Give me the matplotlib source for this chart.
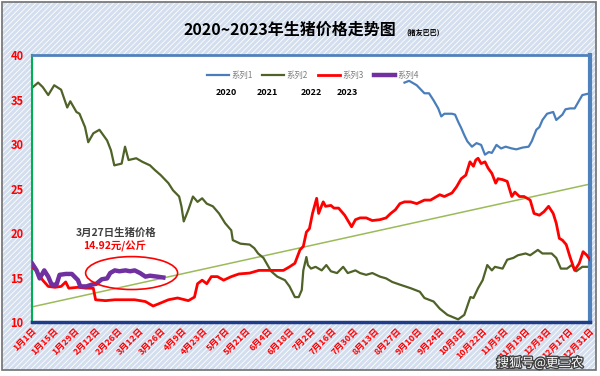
import matplotlib.pyplot as plt
from matplotlib.patches import Ellipse, Rectangle
import matplotlib.patheffects as pe

plt.rcParams['font.family'] = ['Noto Sans CJK SC', 'DejaVu Sans']
plt.rcParams['hatch.linewidth'] = 0.6

# day of year (0 = 1月1日) and price in 元/公斤
days_2020 = [243, 246, 251, 256, 259, 262, 265, 267, 269, 274, 276, 278, 280, 282, 284,
             287, 290, 293, 295.5, 298, 300, 303, 306, 309, 313, 316, 320, 324, 326, 329,
             331, 333, 336, 340, 342, 346, 348, 351, 354, 356, 359, 364]
price_2020 = [36.9, 37.1, 36.6, 35.7, 35.7, 34.9, 34.0, 33.1, 33.4, 33.4, 33.3, 32.5, 31.8, 31.0, 30.3,
              29.7, 30.1, 29.9, 28.8, 29.1, 29.0, 29.9, 29.5, 29.7, 29.5, 29.4, 29.6, 29.7, 30.3, 31.6,
              31.9, 32.7, 33.4, 33.6, 32.7, 33.3, 33.9, 34.0, 34.0, 34.6, 35.5, 35.7]

days_2021 = [0, 4, 7, 10.6, 14.5, 19, 23, 25, 29, 31, 34.6, 36.7, 40, 44, 49, 51.5, 53.7, 58.5,
             60.7, 63, 68, 72, 77, 80, 84, 89, 92, 96, 97.5, 99, 102, 105, 108, 111, 114, 118,
             122, 126, 130, 131, 136, 142, 145, 147.5, 151, 153, 156, 160, 165, 168, 171.5, 174,
             176, 177, 179, 180, 182, 185, 189, 192, 195, 199, 203, 206, 211, 214, 218, 222, 227,
             231, 235, 240, 247, 253, 256, 262, 266, 271, 278, 282, 286, 288, 291, 294, 297, 300,
             302, 307, 310, 314, 317, 322, 325, 330, 333, 339, 342, 345, 349, 352, 355, 359, 364]
price_2021 = [36.3, 36.9, 36.4, 35.5, 36.6, 36.1, 34.1, 34.8, 33.6, 33.4, 31.9, 30.2, 31.2, 31.6, 30.4, 29.3, 27.6, 27.8,
              29.7, 28.2, 28.4, 28.0, 27.6, 27.1, 26.5, 25.6, 24.8, 24.1, 23.0, 21.3, 22.6, 24.1, 23.5, 23.9, 23.3, 23.0,
              22.2, 21.1, 20.3, 19.2, 18.8, 18.7, 18.3, 17.7, 17.2, 16.6, 15.7, 15.1, 14.7, 14.0, 12.8, 12.8,
              13.6, 15.8, 17.3, 16.4, 16.0, 16.2, 15.8, 16.4, 15.7, 15.5, 16.2, 15.5, 15.8, 15.5, 15.3, 15.5, 15.1,
              14.9, 14.5, 14.2, 13.8, 13.4, 12.7, 12.3, 11.5, 10.8, 10.3, 10.8, 12.8, 12.7, 13.8, 14.7, 16.4, 15.8,
              16.2, 16.0, 17.0, 17.2, 17.5, 17.7, 17.5, 18.1, 17.7, 17.7, 17.2, 16.0, 16.0, 16.4, 15.7, 16.2, 16.2]

days_2022 = [0, 3, 7, 10.6, 15, 19, 22, 24, 30, 35, 40, 41.5, 48, 54, 61, 67, 74, 79, 82, 89,
             95, 102, 106, 108, 111, 114, 117, 121, 125, 130, 135, 142, 148, 155, 160, 164, 168,
             171.5, 174.8, 177, 179, 181, 183, 185.7, 187, 189, 190, 191.5, 195, 197, 200, 204,
             208.5, 211, 214, 218, 222, 227, 231, 234, 237, 240, 243, 247, 251, 256, 260, 266,
             269, 274, 277, 280, 283, 285.7, 288, 289.5, 291, 293, 295.5, 297.5, 300, 302.5, 304,
             307, 310, 313, 315, 318, 321, 325, 327.5, 331, 334, 337, 340, 342, 344, 346, 348.5,
             351, 354, 357, 359.5, 362, 364]
price_2022 = [16.2, 15.7, 14.7, 14.0, 13.9, 14.0, 14.5, 13.8, 13.9, 13.8, 13.8, 12.5, 12.4, 12.5, 12.5, 12.5, 12.3, 11.8, 12.0, 12.5,
              12.7, 12.4, 12.8, 14.3, 14.7, 14.3, 15.1, 15.1, 14.7, 15.1, 15.4, 15.5, 15.8, 15.8, 15.8, 15.8, 16.2,
              16.6, 18.1, 18.5, 20.1, 20.5, 22.2, 23.9, 22.2, 23.1, 23.5, 23.0, 23.1, 22.8, 22.8, 22.0,
              20.7, 21.5, 21.7, 21.7, 21.4, 21.5, 21.7, 22.2, 22.6, 23.3, 23.5, 23.5, 23.3, 23.7, 23.7, 24.3,
              24.1, 24.5, 25.2, 26.1, 26.5, 28.0, 27.5, 28.2, 28.4, 27.8, 28.0, 27.3, 26.7, 25.6, 26.1,
              26.0, 25.8, 24.1, 24.6, 24.1, 24.1, 23.7, 22.2, 22.0, 22.4, 23.0, 22.2, 21.1, 19.4, 19.2, 18.7,
              17.3, 15.8, 16.6, 17.9, 17.5, 17.0]

days_2023 = [0, 3, 5, 8, 10.6, 12.8, 16, 18, 22, 26, 30, 31.5, 35.5, 39, 42, 45.5, 49, 51,
             54, 57, 61, 64, 67, 70.5, 74, 77, 81.5, 85.7]
price_2023 = [16.6, 15.8, 14.9, 15.8, 15.1, 14.2, 14.2, 15.3, 15.4, 15.4, 14.7, 14.0, 14.0, 14.2, 14.3, 14.8, 14.9, 15.5,
              15.8, 15.7, 15.8, 15.7, 15.8, 15.5, 15.1, 15.2, 15.1, 15.0]

# linear trend line ends
trend_days = [0, 364]
trend_vals = [11.7, 25.5]

tick_days = list(range(0, 365, 14))
tick_labels = ['1月1日', '1月15日', '1月29日', '2月12日', '2月26日', '3月12日', '3月26日',
               '4月9日', '4月23日', '5月7日', '5月21日', '6月4日', '6月18日', '7月2日',
               '7月16日', '7月30日', '8月13日', '8月27日', '9月10日', '9月24日', '10月8日',
               '10月22日', '11月5日', '11月19日', '12月3日', '12月17日', '12月31日']

fig = plt.figure(figsize=(6, 3.76), dpi=100)
fig.patch.set_facecolor('white')
# hatched chart background
bg = Rectangle((0.004, 0.016), 0.99, 0.98, transform=fig.transFigure, facecolor='#D3DEEE',
               edgecolor='white', hatch='//////', lw=0, zorder=-2)
fig.patches.append(bg)
frame = Rectangle((0.004, 0.016), 0.99, 0.98, transform=fig.transFigure, fill=False,
                  edgecolor='#707070', lw=1.2, zorder=-1)
fig.patches.append(frame)

ax = fig.add_axes([0.0533, 0.1436, 0.93, 0.7101])
ax.set_facecolor('white')

ax.plot(trend_days, trend_vals, color='#9BBB59', lw=1.1, zorder=1)
l1, = ax.plot(days_2020, price_2020, color='#4A7EBB', lw=1.6, label='系列1', zorder=2)
l2, = ax.plot(days_2021, price_2021, color='#4F6228', lw=1.6, label='系列2', zorder=2)
l3, = ax.plot(days_2022, price_2022, color='#FF0000', lw=2.0, label='系列3', zorder=3)
l4, = ax.plot(days_2023, price_2023, color='#7030A0', lw=3.2, label='系列4', zorder=4)

ax.set_xlim(0, 364)
ax.set_ylim(10, 40)
ax.set_yticks([10, 15, 20, 25, 30, 35, 40])
ax.tick_params(axis='y', length=0, pad=6, labelsize=8, labelcolor='#FF0000')
for t in ax.get_yticklabels():
    t.set_fontweight('bold')
ax.set_xticks(tick_days)
ax.set_xticklabels(tick_labels, rotation=45, ha='right', va='top', rotation_mode='anchor',
                   fontsize=6.5, color='#FF0000', fontweight='bold')
ax.tick_params(axis='x', length=0, pad=3)

ax.spines['left'].set_color('#00B050')
ax.spines['left'].set_linewidth(1.5)
ax.spines['bottom'].set_color('#1F3C88')
ax.spines['bottom'].set_linewidth(2.5)
ax.spines['top'].set_color('#4F81BD')
ax.spines['top'].set_linewidth(2.0)
ax.spines['right'].set_color('#4F81BD')
ax.spines['right'].set_linewidth(3.0)

leg = ax.legend(handles=[l1, l2, l3, l4], loc='upper left', bbox_to_anchor=(0.3, 0.97),
                ncol=4, frameon=False, fontsize=6, handlelength=2.6, columnspacing=1.2,
                handletextpad=0.3, labelcolor='#7F7F7F')
for i, yr in enumerate(['2020', '2021', '2022', '2023']):
    ax.text([0.349, 0.421, 0.5, 0.566][i], 0.86, yr, transform=ax.transAxes, fontsize=6.5,
            fontweight='bold', ha='center', va='center', color='black')

ax.add_patch(Ellipse((65, 15.5), 60, 3.7, fill=False, edgecolor='#FF0000', lw=1.2, zorder=5))
ax.text(55, 20.0, '3月27日生猪价格', fontsize=7.5, fontweight='bold', color='#404040',
        ha='center', va='center')
ax.text(54, 18.5, '14.92元/公斤', fontsize=7.5, fontweight='bold', color='#FF0000',
        ha='center', va='center')

fig.text(0.483, 0.92, '2020~2023年生猪价格走势图', fontsize=11.5, fontweight='bold',
         ha='center', va='center', color='black')
fig.text(0.705, 0.915, '(猪友巴巴)', fontsize=5, fontweight='bold', ha='center', va='center')

fig.text(0.9, 0.035, '搜狐号@更三农', fontsize=9, color='white', ha='center', va='center',
         path_effects=[pe.withStroke(linewidth=2, foreground='#404040')])

fig.savefig('out.png', dpi=100)
